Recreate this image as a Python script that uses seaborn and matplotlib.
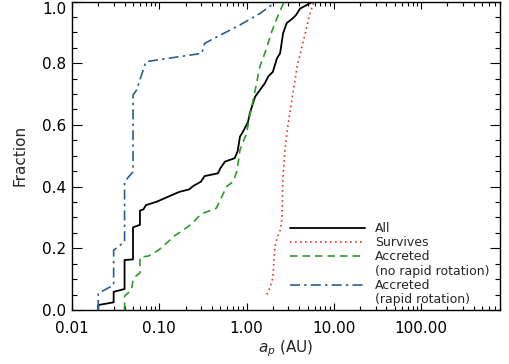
import numpy as np
import pandas as pd
import matplotlib
matplotlib.use("Agg")
import matplotlib.pyplot as plt
from matplotlib.lines import Line2D
from matplotlib.ticker import FixedLocator, LogLocator, NullFormatter, FuncFormatter
import seaborn as sns

# ---- data (vertices) ----
all_x = [0.02, 0.02, 0.03, 0.03, 0.04, 0.04, 0.05, 0.05, 0.06, 0.06, 0.0656, 0.0704, 0.0934,
         0.133, 0.17, 0.22, 0.245, 0.30, 0.33, 0.47, 0.50, 0.565, 0.73, 0.79, 0.84, 0.91, 1.04,
         1.09, 1.25, 1.42, 1.62, 1.77, 2.0, 2.23, 2.42, 2.62, 2.88, 3.4, 3.7, 4.1, 5.3, 5.7]
all_y = [0.003, 0.016, 0.025, 0.059, 0.068, 0.162, 0.164, 0.268, 0.276, 0.322, 0.326, 0.340, 0.351,
         0.370, 0.383, 0.391, 0.402, 0.416, 0.434, 0.443, 0.459, 0.481, 0.492, 0.515, 0.562, 0.578, 0.61,
         0.638, 0.691, 0.713, 0.735, 0.757, 0.772, 0.816, 0.832, 0.897, 0.93, 0.946, 0.957, 0.977, 0.994, 1.0]

surv_x = [1.71, 1.87, 2.0, 2.05, 2.11, 2.25, 2.45, 2.55, 2.6, 2.75, 2.95, 3.3, 3.8, 4.5, 5.2, 5.9]
surv_y = [0.05, 0.076, 0.105, 0.15, 0.205, 0.235, 0.262, 0.30, 0.42, 0.52, 0.59, 0.68, 0.79, 0.875, 0.95, 1.0]

norot_x = [0.04, 0.04, 0.048, 0.05, 0.053, 0.06, 0.06, 0.075, 0.098, 0.133, 0.145, 0.188, 0.235, 0.30,
           0.45, 0.52, 0.59, 0.70, 0.77, 0.81, 0.84, 1.0, 1.09, 1.19, 1.42, 1.67, 1.94, 2.23, 2.7]
norot_y = [0.0, 0.045, 0.065, 0.097, 0.108, 0.12, 0.171, 0.175, 0.194, 0.227, 0.238, 0.259, 0.279, 0.311,
           0.33, 0.367, 0.40, 0.416, 0.448, 0.486, 0.519, 0.573, 0.632, 0.68, 0.789, 0.843, 0.902, 0.946, 1.0]

rot_x = [0.02, 0.02, 0.03, 0.03, 0.04, 0.04, 0.05, 0.05, 0.055, 0.06, 0.0704, 0.307, 0.33, 0.50,
         0.84, 1.42, 2.2]
rot_y = [0.0, 0.054, 0.081, 0.194, 0.221, 0.416, 0.448, 0.697, 0.713, 0.746, 0.805, 0.832, 0.864, 0.891,
         0.924, 0.961, 1.0]

labels = ["All", "Survives", "Accreted", "Accreted"]
sub_labels = ["", "", "(no rapid rotation)", "(rapid rotation)"]
xtick_vals = [0.01, 0.1, 1.0, 10.0, 100.0]
ytick_vals = [0.0, 0.2, 0.4, 0.6, 0.8, 1.0]

# ---- styling ----
sns.set_style("ticks")
plt.rcParams['font.family'] = ['DejaVu Sans']
plt.rcParams['mathtext.fontset'] = 'dejavusans'

colors = ["black", "#e8362c", "#2e9a2a", "#2b5f8e"]
styles = ["-", (0, (1, 2)), (0, (4.5, 3)), (0, (6, 2.5, 1.5, 2.5))]
lws = [1.3, 1.2, 1.2, 1.2]

fig = plt.figure(figsize=(5.09, 3.64), dpi=100)
ax = fig.add_axes([72/509, 54/364, 428/509, 308.5/364])

series = [(all_x, all_y), (surv_x, surv_y), (norot_x, norot_y), (rot_x, rot_y)]
for (xs, ys), c, ls, lw in zip(series, colors, styles, lws):
    df = pd.DataFrame({"a": xs, "f": ys})
    sns.lineplot(data=df, x="a", y="f", sort=False, estimator=None, ax=ax,
                 color=c, linestyle=ls, linewidth=lw)

ax.set_xscale("log")
ax.set_xlim(0.01, 800)
ax.set_ylim(0.0, 1.0)

ax.xaxis.set_major_locator(FixedLocator(xtick_vals))
ax.xaxis.set_major_formatter(FuncFormatter(lambda v, p: "%.2f" % v))
ax.xaxis.set_minor_locator(LogLocator(base=10, subs=np.arange(2, 10)))
ax.xaxis.set_minor_formatter(NullFormatter())
ax.yaxis.set_major_locator(FixedLocator(ytick_vals))
ax.yaxis.set_major_formatter(FuncFormatter(lambda v, p: "%.1f" % v))
ax.yaxis.set_minor_locator(FixedLocator(np.arange(0, 1.0001, 0.05)))

ax.tick_params(axis="both", which="both", direction="in", top=True, right=True,
               width=0.8, colors="black", labelsize=11)
ax.tick_params(axis="x", which="major", length=5, pad=8)
ax.tick_params(axis="x", which="minor", length=3)
ax.tick_params(axis="y", which="major", length=7, pad=4)
ax.tick_params(axis="y", which="minor", length=3.5)
for s in ax.spines.values():
    s.set_linewidth(1.0)
    s.set_color("black")

# keep the top "1.0" label inside the figure
top_tick = ax.yaxis.get_major_ticks()[-1]
top_tick.label1.set_verticalalignment("top")

ax.set_xlabel(r"$a_p$ (AU)", fontsize=11)
ax.set_ylabel("Fraction", fontsize=11)
ax.xaxis.set_label_coords(0.5, (310 - 338) / 308.5)
ax.yaxis.set_label_coords((27 - 72) / 428, 0.5)

handles = []
texts = []
for lab, sub, c, ls, lw in zip(labels, sub_labels, colors, styles, lws):
    handles.append(Line2D([], [], color=c, linestyle=ls, linewidth=lw))
    texts.append(lab)
    if sub:
        handles.append(Line2D([], [], color="none"))
        texts.append(sub)

ax.legend(handles, texts, loc="upper left",
          bbox_to_anchor=((290 - 72) / 428, (310 - 222) / 308.5),
          frameon=False, fontsize=9, handlelength=6.0, handletextpad=0.8,
          labelspacing=0.1, borderpad=0, borderaxespad=0)

fig.savefig("out.png", dpi=100)
